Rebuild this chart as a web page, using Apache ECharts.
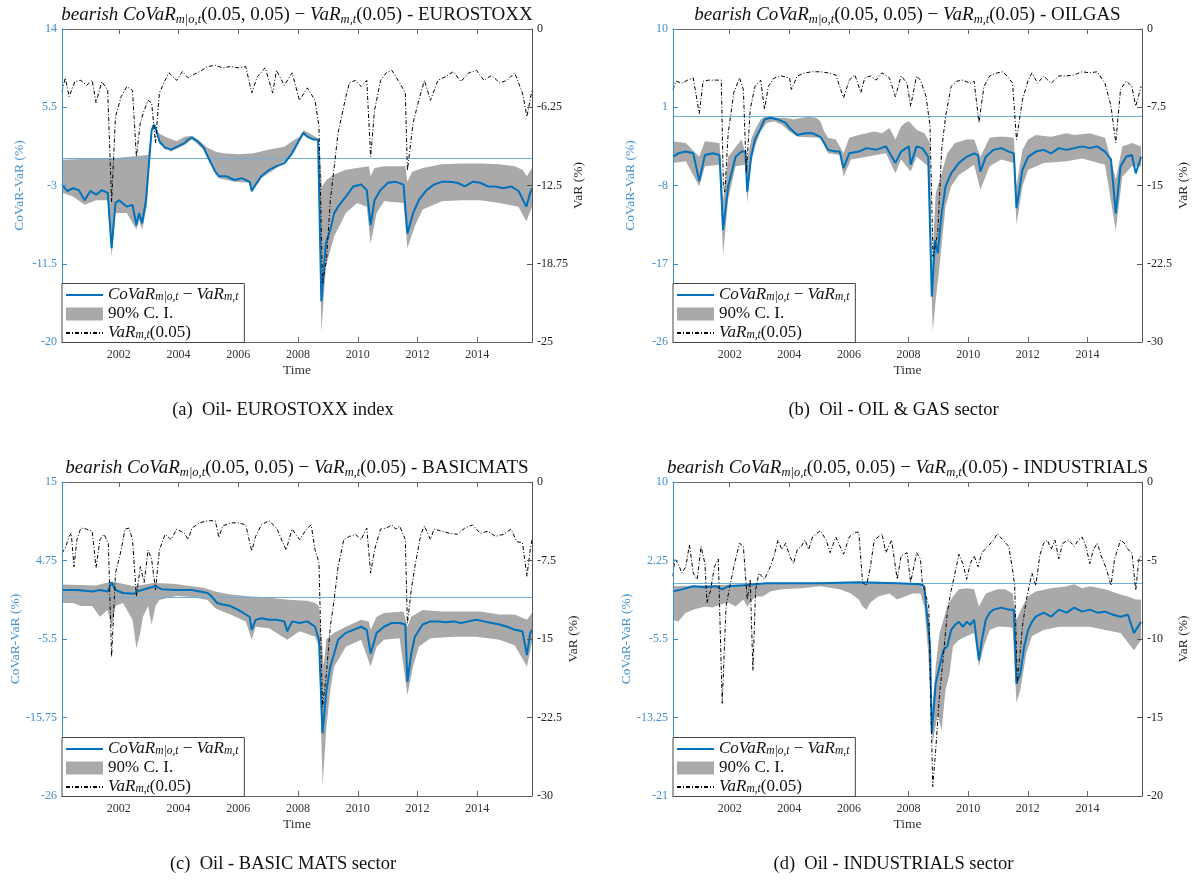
<!DOCTYPE html>
<html>
<head>
<meta charset="utf-8">
<script src="https://cdn.jsdelivr.net/npm/echarts@6/dist/echarts.min.js"></script>
<style>html,body{margin:0;padding:0;background:#fff}#c{width:1194px;height:880px}</style>
</head>
<body>
<div id="c"></div>
<script>
// ---------------- DATA ----------------
const timeRange = [2000.1, 2015.83];
const xTicks = [2002, 2004, 2006, 2008, 2010, 2012, 2014];

const euroLeftTicks = [-20, -11.5, -3, 5.5, 14];
const euroRightTicks = [-25, -18.75, -12.5, -6.25, 0];
const oilLeftTicks = [-26, -17, -8, 1, 10];
const oilRightTicks = [-30, -22.5, -15, -7.5, 0];
const basicLeftTicks = [-26, -15.75, -5.5, 4.75, 15];
const basicRightTicks = [-30, -22.5, -15, -7.5, 0];
const indusLeftTicks = [-21, -13.25, -5.5, 2.25, 10];
const indusRightTicks = [-20, -15, -10, -5, 0];

const sectorNames = ['EUROSTOXX', 'OILGAS', 'BASICMATS', 'INDUSTRIALS'];
const captions = ['(a)  Oil- EUROSTOXX index', '(b)  Oil - OIL & GAS sector', '(c)  Oil - BASIC MATS sector', '(d)  Oil - INDUSTRIALS sector'];

// Panel (a) EUROSTOXX
const euroVar = [[2000.10,-5.0],[2000.21,-3.9],[2000.34,-5.4],[2000.53,-4.2],[2000.73,-4.1],[2000.92,-4.5],[2001.11,-4.1],[2001.24,-5.9],[2001.43,-4.2],[2001.63,-4.9],[2001.76,-13.8],[2001.89,-7.0],[2002.08,-5.4],[2002.27,-4.6],[2002.46,-4.9],[2002.59,-10.2],[2002.72,-7.5],[2002.85,-6.5],[2002.98,-5.7],[2003.10,-5.9],[2003.23,-9.1],[2003.36,-5.1],[2003.55,-4.1],[2003.68,-3.5],[2003.94,-4.1],[2004.13,-3.4],[2004.32,-3.9],[2004.45,-3.7],[2004.71,-3.4],[2004.97,-3.0],[2005.23,-2.9],[2005.48,-3.1],[2005.74,-3.0],[2006.00,-3.1],[2006.25,-3.0],[2006.45,-5.1],[2006.64,-3.8],[2006.90,-3.1],[2007.15,-5.1],[2007.28,-3.3],[2007.54,-4.5],[2007.80,-3.5],[2008.05,-5.7],[2008.31,-4.7],[2008.57,-5.7],[2008.70,-7.8],[2008.82,-20.3],[2008.95,-18.5],[2009.08,-13.7],[2009.34,-8.3],[2009.60,-5.4],[2009.72,-4.3],[2009.92,-4.1],[2010.11,-4.6],[2010.30,-4.1],[2010.43,-10.2],[2010.56,-6.5],[2010.76,-4.1],[2010.95,-3.5],[2011.14,-3.3],[2011.40,-4.3],[2011.59,-5.1],[2011.66,-11.3],[2011.85,-7.5],[2012.04,-5.7],[2012.23,-4.1],[2012.43,-5.7],[2012.68,-4.1],[2012.94,-3.8],[2013.20,-3.4],[2013.45,-4.2],[2013.71,-3.5],[2013.97,-3.3],[2014.22,-4.1],[2014.48,-3.7],[2014.74,-4.3],[2015.00,-4.1],[2015.25,-3.5],[2015.51,-5.1],[2015.66,-7.0],[2015.83,-4.9]];
const euroCovar = [[2000.10,-2.9],[2000.28,-3.6],[2000.47,-3.3],[2000.66,-3.5],[2000.86,-4.6],[2001.05,-3.6],[2001.24,-4.0],[2001.43,-3.5],[2001.63,-3.8],[2001.76,-9.8],[2001.89,-4.9],[2002.01,-4.6],[2002.27,-5.3],[2002.46,-5.1],[2002.59,-7.3],[2002.68,-6.0],[2002.78,-7.1],[2002.91,-4.6],[2003.10,3.0],[2003.17,3.6],[2003.23,3.3],[2003.36,1.8],[2003.55,1.1],[2003.75,0.9],[2003.94,1.2],[2004.20,1.6],[2004.32,2.0],[2004.45,2.2],[2004.65,1.8],[2004.84,1.1],[2005.03,-0.2],[2005.23,-1.5],[2005.35,-2.0],[2005.61,-2.0],[2005.87,-2.4],[2006.12,-2.2],[2006.38,-2.6],[2006.45,-3.6],[2006.58,-2.9],[2006.77,-2.0],[2007.03,-1.3],[2007.28,-0.9],[2007.54,-0.6],[2007.80,0.5],[2008.05,2.0],[2008.18,2.7],[2008.31,2.3],[2008.50,2.0],[2008.67,2.0],[2008.78,-15.6],[2008.93,-9.3],[2009.08,-7.8],[2009.21,-6.0],[2009.34,-5.3],[2009.60,-4.2],[2009.85,-3.1],[2010.11,-2.9],[2010.30,-3.5],[2010.43,-7.3],[2010.56,-4.6],[2010.76,-3.5],[2011.01,-2.7],[2011.27,-2.6],[2011.53,-2.9],[2011.66,-8.2],[2011.85,-6.0],[2012.04,-4.6],[2012.30,-3.5],[2012.55,-2.9],[2012.81,-2.6],[2013.07,-2.6],[2013.33,-2.7],[2013.58,-3.1],[2013.84,-2.6],[2014.10,-2.7],[2014.35,-3.1],[2014.61,-3.1],[2014.87,-3.3],[2015.13,-3.1],[2015.38,-3.6],[2015.64,-5.3],[2015.77,-3.8],[2015.83,-3.3]];
const euroUpper = [[2000.10,-0.2],[2001.00,-0.1],[2001.89,0.0],[2002.98,0.3],[2003.10,3.2],[2003.20,3.8],[2003.33,2.7],[2003.55,2.3],[2003.94,1.8],[2004.20,2.3],[2004.45,2.4],[2004.71,1.8],[2004.97,1.1],[2005.23,0.7],[2005.48,0.5],[2006.00,0.4],[2006.51,0.5],[2007.03,0.9],[2007.54,1.2],[2007.80,1.8],[2008.05,2.3],[2008.18,3.0],[2008.37,2.7],[2008.63,2.2],[2008.72,0.9],[2008.80,-3.1],[2008.95,-2.4],[2009.21,-1.8],[2009.60,-1.3],[2009.98,-1.1],[2010.37,-0.9],[2010.43,-2.0],[2010.56,-1.1],[2010.88,-0.9],[2011.59,-0.9],[2011.66,-2.6],[2011.82,-1.5],[2012.17,-1.1],[2012.81,-0.7],[2013.45,-0.6],[2014.10,-0.6],[2014.74,-0.7],[2015.25,-0.9],[2015.51,-1.3],[2015.66,-2.0],[2015.83,-1.1]];
const euroLower = [[2000.10,-3.8],[2000.47,-4.2],[2000.86,-5.1],[2001.24,-4.6],[2001.63,-4.6],[2001.76,-10.7],[2001.89,-6.0],[2002.27,-6.0],[2002.59,-7.8],[2002.68,-6.7],[2002.78,-7.8],[2002.94,-5.3],[2003.10,2.9],[2003.23,3.1],[2003.36,1.5],[2003.75,0.7],[2004.20,1.4],[2004.45,2.0],[2004.84,0.9],[2005.03,-0.4],[2005.35,-2.2],[2005.87,-2.6],[2006.38,-2.7],[2006.45,-3.8],[2006.77,-2.2],[2007.28,-1.1],[2007.80,0.3],[2008.18,2.5],[2008.67,1.8],[2008.78,-18.9],[2008.93,-11.8],[2009.21,-8.5],[2009.60,-6.0],[2009.98,-4.9],[2010.30,-5.3],[2010.43,-9.3],[2010.63,-6.0],[2010.88,-4.7],[2011.53,-4.9],[2011.66,-9.8],[2011.91,-7.4],[2012.17,-5.6],[2012.81,-4.7],[2013.45,-4.6],[2014.10,-4.6],[2014.74,-4.9],[2015.38,-5.3],[2015.64,-6.9],[2015.83,-5.3]];

// Panel (b) OILGAS
const oilVar = [[2000.10,-5.8],[2000.20,-5.0],[2000.40,-5.2],[2000.59,-4.9],[2000.78,-4.7],[2000.98,-8.1],[2001.11,-5.0],[2001.30,-4.9],[2001.56,-4.9],[2001.72,-4.9],[2001.79,-15.1],[2001.84,-15.6],[2001.95,-10.0],[2002.14,-6.1],[2002.33,-4.7],[2002.46,-5.8],[2002.56,-13.8],[2002.69,-7.7],[2002.85,-5.5],[2003.04,-4.9],[2003.17,-7.7],[2003.30,-5.5],[2003.49,-4.7],[2003.75,-4.5],[2004.01,-4.7],[2004.07,-5.8],[2004.27,-4.5],[2004.53,-4.2],[2004.78,-4.1],[2005.04,-4.1],[2005.30,-4.2],[2005.56,-4.4],[2005.82,-6.6],[2006.01,-4.9],[2006.20,-4.4],[2006.40,-6.1],[2006.53,-4.7],[2006.72,-4.5],[2006.91,-4.9],[2007.11,-4.2],[2007.36,-4.7],[2007.56,-6.5],[2007.75,-4.5],[2007.95,-5.2],[2008.07,-7.4],[2008.27,-4.5],[2008.40,-4.9],[2008.59,-6.5],[2008.72,-9.3],[2008.82,-21.8],[2008.98,-19.6],[2009.11,-11.6],[2009.24,-8.4],[2009.43,-5.5],[2009.62,-5.0],[2009.82,-4.9],[2010.07,-5.2],[2010.20,-5.0],[2010.36,-9.0],[2010.53,-5.5],[2010.72,-4.5],[2010.98,-4.2],[2011.17,-4.1],[2011.36,-4.7],[2011.49,-5.2],[2011.62,-10.6],[2011.82,-6.8],[2012.01,-4.9],[2012.14,-4.2],[2012.33,-5.2],[2012.53,-4.5],[2012.78,-5.2],[2013.04,-4.5],[2013.30,-4.5],[2013.56,-4.4],[2013.82,-4.1],[2014.08,-4.2],[2014.33,-4.1],[2014.59,-5.2],[2014.79,-7.4],[2014.95,-10.9],[2015.11,-5.8],[2015.30,-5.0],[2015.49,-5.5],[2015.62,-7.4],[2015.80,-5.5]];
const oilCovar = [[2000.10,-4.7],[2000.27,-4.3],[2000.53,-4.1],[2000.78,-4.3],[2000.98,-7.5],[2001.17,-4.5],[2001.43,-4.3],[2001.66,-4.5],[2001.78,-13.1],[2001.95,-8.1],[2002.20,-4.7],[2002.40,-4.1],[2002.53,-4.1],[2002.59,-8.7],[2002.72,-4.7],[2002.85,-2.7],[2003.04,-1.4],[2003.17,-0.4],[2003.36,-0.2],[2003.62,-0.4],[2003.88,-0.8],[2004.01,-1.4],[2004.27,-2.2],[2004.53,-2.0],[2004.78,-2.0],[2005.04,-2.4],[2005.17,-3.1],[2005.30,-3.9],[2005.56,-4.1],[2005.69,-4.1],[2005.82,-6.0],[2006.01,-4.3],[2006.33,-4.1],[2006.59,-3.7],[2006.91,-3.9],[2007.24,-3.5],[2007.56,-5.4],[2007.75,-4.1],[2008.01,-3.5],[2008.07,-5.6],[2008.27,-3.5],[2008.46,-3.7],[2008.66,-4.7],[2008.78,-20.8],[2008.89,-14.3],[2008.98,-15.8],[2009.11,-11.2],[2009.24,-8.1],[2009.43,-6.6],[2009.69,-5.4],[2009.95,-4.7],[2010.20,-4.3],[2010.33,-4.5],[2010.41,-6.4],[2010.59,-4.7],[2010.85,-3.9],[2011.11,-3.7],[2011.36,-4.1],[2011.53,-4.3],[2011.62,-10.6],[2011.82,-6.2],[2012.01,-4.7],[2012.27,-4.1],[2012.53,-3.9],[2012.78,-4.3],[2013.04,-3.7],[2013.30,-3.9],[2013.56,-3.7],[2013.82,-3.5],[2014.08,-3.7],[2014.33,-3.5],[2014.59,-4.1],[2014.79,-5.0],[2014.95,-11.2],[2015.11,-5.8],[2015.30,-4.7],[2015.49,-4.5],[2015.62,-6.6],[2015.80,-4.7]];
const oilUpper = [[2000.10,-2.9],[2000.53,-3.1],[2000.98,-4.7],[2001.17,-2.9],[2001.66,-3.1],[2001.78,-9.6],[2001.95,-4.7],[2002.40,-2.7],[2002.59,-5.0],[2002.72,-2.7],[2002.85,-1.6],[2003.04,-0.4],[2003.17,-0.1],[2003.36,-0.1],[2003.62,-0.2],[2003.88,-0.2],[2004.14,-0.4],[2004.40,-0.2],[2004.65,-0.1],[2004.91,-0.2],[2005.04,-0.6],[2005.17,-1.8],[2005.30,-2.5],[2005.56,-2.7],[2005.82,-4.3],[2006.01,-2.5],[2006.33,-2.2],[2006.59,-2.0],[2006.85,-1.8],[2007.11,-2.0],[2007.36,-1.4],[2007.56,-2.7],[2007.75,-1.2],[2007.88,-0.8],[2008.01,-0.6],[2008.27,-1.6],[2008.53,-2.0],[2008.72,-3.1],[2008.78,-17.7],[2008.91,-8.9],[2009.11,-6.6],[2009.30,-4.3],[2009.56,-3.1],[2009.95,-2.7],[2010.20,-2.7],[2010.41,-4.7],[2010.72,-2.5],[2010.98,-2.4],[2011.24,-2.4],[2011.53,-2.5],[2011.62,-8.1],[2011.82,-3.9],[2012.01,-2.7],[2012.27,-2.2],[2012.78,-2.4],[2013.30,-2.0],[2013.56,-2.2],[2014.08,-2.0],[2014.59,-2.5],[2014.95,-7.3],[2015.17,-3.5],[2015.49,-3.1],[2015.80,-3.5]];
const oilLower = [[2000.10,-5.4],[2000.53,-5.2],[2000.98,-8.1],[2001.17,-5.8],[2001.66,-5.6],[2001.78,-16.0],[2001.95,-9.6],[2002.20,-5.8],[2002.53,-5.6],[2002.59,-10.0],[2002.72,-5.4],[2002.85,-3.5],[2003.04,-1.8],[2003.24,-0.8],[2003.49,-0.6],[2003.75,-1.0],[2004.01,-1.8],[2004.27,-2.4],[2005.04,-2.5],[2005.30,-4.3],[2005.69,-4.5],[2005.82,-7.0],[2006.07,-5.0],[2006.59,-4.7],[2007.24,-4.3],[2007.56,-6.6],[2007.75,-5.0],[2008.07,-6.4],[2008.27,-4.7],[2008.66,-5.8],[2008.81,-24.8],[2008.91,-21.2],[2009.04,-17.3],[2009.24,-10.4],[2009.43,-8.1],[2009.69,-6.8],[2010.20,-5.6],[2010.41,-8.5],[2010.72,-5.8],[2011.11,-5.0],[2011.53,-5.4],[2011.62,-12.5],[2011.82,-8.1],[2012.01,-6.2],[2012.53,-5.4],[2013.30,-5.2],[2013.82,-4.9],[2014.59,-5.6],[2014.95,-13.2],[2015.17,-7.0],[2015.49,-5.8],[2015.80,-5.8]];

// Panel (c) BASICMATS
const basicVar = [[2000.10,-6.8],[2000.21,-6.3],[2000.34,-5.2],[2000.41,-4.9],[2000.50,-8.1],[2000.60,-5.5],[2000.73,-4.4],[2000.92,-4.5],[2001.11,-4.7],[2001.24,-8.2],[2001.37,-5.5],[2001.50,-5.0],[2001.65,-5.8],[2001.76,-16.7],[2001.89,-8.7],[2002.08,-6.5],[2002.21,-4.5],[2002.34,-4.4],[2002.46,-5.5],[2002.59,-10.9],[2002.72,-8.1],[2002.85,-9.6],[2002.98,-6.5],[2003.10,-7.4],[2003.23,-10.3],[2003.36,-6.5],[2003.55,-5.0],[2003.75,-5.5],[2003.94,-4.5],[2004.20,-4.9],[2004.32,-5.5],[2004.45,-4.4],[2004.71,-3.9],[2004.97,-3.7],[2005.23,-3.7],[2005.35,-5.3],[2005.48,-4.2],[2005.74,-3.9],[2006.00,-3.9],[2006.25,-4.1],[2006.45,-6.6],[2006.58,-5.2],[2006.77,-4.1],[2007.03,-3.7],[2007.28,-4.4],[2007.60,-6.5],[2007.80,-4.5],[2008.05,-5.5],[2008.31,-4.4],[2008.44,-4.1],[2008.57,-6.5],[2008.70,-7.7],[2008.82,-21.5],[2008.95,-18.3],[2009.08,-13.8],[2009.21,-11.2],[2009.34,-8.1],[2009.53,-5.5],[2009.72,-5.2],[2009.92,-5.0],[2010.11,-5.5],[2010.30,-4.4],[2010.43,-8.7],[2010.56,-6.5],[2010.76,-4.5],[2010.95,-4.4],[2011.14,-4.1],[2011.27,-4.5],[2011.40,-4.2],[2011.59,-5.5],[2011.66,-13.5],[2011.79,-10.3],[2011.91,-8.1],[2012.11,-5.0],[2012.23,-4.2],[2012.43,-5.5],[2012.55,-4.5],[2012.81,-4.7],[2013.07,-4.9],[2013.33,-5.0],[2013.58,-4.4],[2013.84,-4.1],[2014.10,-4.9],[2014.35,-4.7],[2014.61,-5.2],[2014.87,-5.0],[2015.13,-4.5],[2015.32,-5.7],[2015.51,-5.8],[2015.66,-9.0],[2015.77,-6.5],[2015.83,-5.5]];
const basicCovar = [[2000.10,0.9],[2000.60,0.9],[2001.11,0.7],[2001.37,0.9],[2001.63,0.7],[2001.76,1.9],[2001.89,0.9],[2002.14,0.5],[2002.53,0.4],[2002.59,0.7],[2002.78,0.9],[2003.04,1.2],[2003.23,1.4],[2003.43,1.0],[2003.94,0.9],[2004.45,0.9],[2004.71,0.7],[2004.97,0.5],[2005.10,0.1],[2005.29,-0.8],[2005.48,-1.0],[2005.74,-1.2],[2006.00,-1.7],[2006.25,-2.3],[2006.38,-2.6],[2006.45,-4.3],[2006.58,-3.0],[2006.77,-2.8],[2007.03,-3.0],[2007.28,-3.0],[2007.54,-3.2],[2007.64,-4.5],[2007.80,-3.2],[2008.05,-3.4],[2008.31,-3.2],[2008.57,-3.9],[2008.70,-5.6],[2008.82,-17.8],[2008.95,-12.2],[2009.08,-9.1],[2009.21,-7.4],[2009.34,-5.6],[2009.60,-4.7],[2009.85,-4.3],[2010.11,-3.9],[2010.30,-4.3],[2010.43,-7.4],[2010.63,-4.7],[2010.88,-3.9],[2011.14,-3.4],[2011.40,-3.4],[2011.59,-3.6],[2011.66,-11.1],[2011.79,-7.4],[2011.91,-5.2],[2012.17,-3.6],[2012.43,-3.2],[2012.68,-3.2],[2012.94,-3.3],[2013.20,-3.2],[2013.45,-3.4],[2013.71,-3.2],[2013.97,-3.0],[2014.22,-3.2],[2014.48,-3.4],[2014.74,-3.6],[2015.00,-3.9],[2015.25,-4.3],[2015.51,-4.5],[2015.66,-7.6],[2015.77,-4.7],[2015.83,-4.3]];
const basicUpper = [[2000.10,1.6],[2001.24,1.5],[2001.76,2.0],[2002.53,1.4],[2003.17,1.8],[2003.81,1.7],[2004.45,1.4],[2004.84,1.2],[2005.23,0.7],[2005.74,0.3],[2006.25,0.1],[2006.77,0.0],[2007.28,-0.2],[2007.80,-0.4],[2008.31,-0.5],[2008.57,-0.8],[2008.70,-1.2],[2008.80,-6.0],[2008.86,-9.0],[2008.95,-5.5],[2009.21,-4.7],[2009.60,-3.9],[2010.11,-3.0],[2010.37,-3.2],[2010.43,-4.3],[2010.63,-2.6],[2010.88,-2.1],[2011.53,-1.9],[2011.66,-3.9],[2011.79,-2.6],[2012.17,-1.7],[2012.81,-1.9],[2013.45,-1.9],[2014.10,-1.9],[2014.74,-2.3],[2015.25,-2.3],[2015.66,-3.0],[2015.83,-2.1]];
const basicLower = [[2000.10,-0.8],[2000.47,-0.8],[2000.73,-1.2],[2001.11,-1.2],[2001.37,-2.6],[2001.63,-1.7],[2001.76,-3.9],[2001.89,-1.2],[2002.14,-0.8],[2002.46,-3.0],[2002.59,-6.7],[2002.72,-4.7],[2002.81,-2.6],[2002.98,-1.2],[2003.10,-3.6],[2003.23,-1.2],[2003.36,-0.4],[2003.55,-0.2],[2003.94,0.1],[2004.45,0.0],[2004.97,-0.4],[2005.23,-1.5],[2005.48,-1.9],[2005.74,-2.3],[2006.25,-3.2],[2006.45,-5.6],[2006.58,-3.9],[2007.03,-4.1],[2007.64,-5.6],[2008.05,-4.5],[2008.57,-5.2],[2008.70,-6.5],[2008.82,-24.6],[2008.95,-17.0],[2009.08,-12.2],[2009.21,-9.1],[2009.41,-7.8],[2009.60,-6.5],[2010.11,-5.6],[2010.43,-9.1],[2010.63,-6.5],[2010.88,-5.6],[2011.40,-5.4],[2011.66,-12.8],[2011.85,-9.1],[2012.04,-6.5],[2012.43,-5.4],[2013.20,-5.2],[2013.97,-5.2],[2014.74,-5.6],[2015.25,-6.3],[2015.66,-9.1],[2015.83,-6.0]];

// Panel (d) INDUSTRIALS
const indusVar = [[2000.10,-6.0],[2000.16,-4.9],[2000.27,-5.2],[2000.40,-5.8],[2000.53,-5.4],[2000.65,-4.0],[2000.78,-5.8],[2000.91,-6.2],[2001.04,-4.1],[2001.17,-5.2],[2001.24,-7.7],[2001.36,-6.9],[2001.49,-5.4],[2001.62,-4.9],[2001.75,-14.1],[2001.88,-7.9],[2002.01,-6.6],[2002.14,-5.4],[2002.33,-3.9],[2002.46,-4.1],[2002.59,-7.5],[2002.69,-6.2],[2002.78,-12.0],[2002.87,-6.9],[2002.98,-5.8],[2003.17,-6.2],[2003.36,-5.4],[2003.49,-4.7],[2003.62,-3.7],[2003.75,-4.3],[2003.88,-3.9],[2004.01,-4.7],[2004.14,-5.2],[2004.27,-4.3],[2004.40,-4.1],[2004.53,-3.7],[2004.65,-4.3],[2004.78,-3.5],[2005.04,-3.1],[2005.24,-3.7],[2005.37,-4.5],[2005.56,-3.5],[2005.82,-4.6],[2006.01,-3.5],[2006.20,-3.2],[2006.33,-3.2],[2006.46,-6.4],[2006.59,-6.6],[2006.72,-5.4],[2006.85,-3.7],[2007.11,-3.3],[2007.24,-4.5],[2007.43,-3.7],[2007.62,-6.2],[2007.75,-4.7],[2007.95,-4.5],[2008.07,-6.4],[2008.27,-4.5],[2008.40,-4.9],[2008.46,-6.4],[2008.59,-7.3],[2008.68,-7.9],[2008.81,-19.4],[2008.91,-17.1],[2009.04,-13.5],[2009.17,-11.1],[2009.30,-8.3],[2009.43,-6.9],[2009.56,-5.8],[2009.69,-4.6],[2009.82,-5.2],[2009.95,-6.2],[2010.07,-5.2],[2010.20,-4.7],[2010.33,-5.4],[2010.46,-4.5],[2010.66,-4.1],[2010.85,-3.7],[2010.98,-3.3],[2011.17,-3.7],[2011.36,-4.1],[2011.49,-5.6],[2011.56,-6.6],[2011.65,-12.8],[2011.82,-9.2],[2011.95,-7.5],[2012.14,-5.8],[2012.27,-6.6],[2012.40,-4.7],[2012.53,-3.9],[2012.66,-3.7],[2012.78,-4.3],[2012.91,-3.7],[2013.04,-4.9],[2013.17,-3.9],[2013.37,-3.7],[2013.56,-4.1],[2013.69,-3.7],[2013.82,-3.5],[2013.95,-4.1],[2014.08,-5.2],[2014.20,-4.3],[2014.33,-3.9],[2014.46,-4.7],[2014.65,-5.6],[2014.79,-6.6],[2014.91,-4.9],[2015.11,-3.7],[2015.24,-3.9],[2015.36,-4.3],[2015.49,-4.5],[2015.62,-6.9],[2015.73,-4.9],[2015.80,-4.7]];
const indusCovar = [[2000.10,-0.8],[2000.40,-0.6],[2000.78,-0.3],[2001.17,-0.4],[2001.56,-0.3],[2001.75,-0.6],[2001.95,-0.3],[2002.46,-0.2],[2002.85,-0.1],[2003.24,0.0],[2005.04,0.0],[2006.33,0.1],[2007.62,0.0],[2008.40,-0.1],[2008.53,-0.3],[2008.59,-2.3],[2008.66,-4.3],[2008.72,-6.2],[2008.78,-14.8],[2008.91,-9.9],[2009.04,-8.2],[2009.17,-6.6],[2009.30,-6.2],[2009.43,-4.6],[2009.56,-4.1],[2009.69,-3.8],[2009.82,-4.3],[2009.95,-3.8],[2010.07,-4.1],[2010.20,-3.6],[2010.36,-7.6],[2010.46,-5.6],[2010.59,-3.6],[2010.72,-2.9],[2010.85,-2.6],[2011.11,-2.4],[2011.36,-2.6],[2011.53,-2.6],[2011.62,-9.9],[2011.75,-8.9],[2011.88,-6.2],[2012.01,-4.6],[2012.14,-3.8],[2012.27,-3.3],[2012.53,-2.9],[2012.78,-3.3],[2013.04,-2.6],[2013.30,-2.9],[2013.56,-2.4],[2013.82,-2.8],[2014.08,-2.6],[2014.33,-2.9],[2014.59,-2.8],[2014.85,-3.1],[2015.11,-3.3],[2015.36,-3.1],[2015.56,-4.9],[2015.69,-4.3],[2015.80,-3.8]];
const indusUpper = [[2000.10,-0.3],[2001.17,-0.2],[2002.85,-0.1],[2003.24,0.0],[2008.40,0.0],[2008.59,-1.3],[2008.72,-4.3],[2008.78,-13.2],[2008.91,-8.2],[2009.04,-4.9],[2009.17,-3.6],[2009.30,-2.3],[2009.49,-1.3],[2009.69,-0.6],[2009.95,-0.5],[2010.20,-0.6],[2010.36,-2.3],[2010.59,-1.0],[2010.98,-0.6],[2011.24,-0.6],[2011.49,-1.0],[2011.62,-3.6],[2011.82,-2.3],[2012.01,-1.3],[2012.27,-0.8],[2012.78,-0.5],[2013.30,-0.3],[2013.56,-0.1],[2013.82,-0.5],[2014.08,-0.3],[2014.59,-0.6],[2015.11,-1.1],[2015.36,-1.3],[2015.62,-1.6],[2015.80,-1.6]];
const indusLower = [[2000.10,-3.6],[2000.27,-3.8],[2000.53,-2.9],[2000.78,-2.6],[2001.17,-2.3],[2001.43,-2.4],[2001.69,-2.1],[2001.95,-1.9],[2002.20,-2.3],[2002.46,-1.6],[2002.59,-2.3],[2002.85,-1.3],[2003.11,-1.3],[2003.36,-0.8],[2003.75,-0.6],[2004.40,-0.5],[2005.04,-0.3],[2005.69,-0.6],[2006.07,-1.0],[2006.33,-1.6],[2006.46,-2.3],[2006.59,-2.6],[2006.72,-1.9],[2006.98,-1.3],[2007.36,-1.0],[2007.62,-1.6],[2007.88,-1.3],[2008.14,-1.0],[2008.40,-1.0],[2008.53,-2.3],[2008.66,-6.9],[2008.81,-15.8],[2008.91,-14.0],[2008.98,-13.0],[2009.11,-14.5],[2009.24,-10.5],[2009.37,-9.0],[2009.49,-6.2],[2009.69,-5.6],[2009.95,-5.2],[2010.20,-4.9],[2010.36,-8.2],[2010.53,-6.2],[2010.72,-4.6],[2010.98,-4.3],[2011.24,-4.3],[2011.49,-4.4],[2011.62,-11.8],[2011.75,-10.5],[2011.95,-6.9],[2012.14,-5.2],[2012.53,-4.6],[2013.04,-4.3],[2013.56,-4.3],[2014.08,-4.3],[2014.59,-4.6],[2015.11,-4.9],[2015.56,-6.6],[2015.80,-5.6]];

// ---------------- LAYOUT / STYLE ----------------
const SERIF = "'Liberation Serif','DejaVu Serif',serif";
const BLUE = '#0072BD';
const AXBLUE = '#3f8fcf';
const GRAY = '#a9a9a9';
const ZERO = '#6fb0da';
const CANVAS_H = 880;

const panels = [
  {name: sectorNames[0], cap: captions[0], v: euroVar, c: euroCovar, u: euroUpper, l: euroLower, lt: euroLeftTicks, rt: euroRightTicks, box: [62, 29, 470, 313]},
  {name: sectorNames[1], cap: captions[1], v: oilVar, c: oilCovar, u: oilUpper, l: oilLower, lt: oilLeftTicks, rt: oilRightTicks, box: [673, 29, 469, 313]},
  {name: sectorNames[2], cap: captions[2], v: basicVar, c: basicCovar, u: basicUpper, l: basicLower, lt: basicLeftTicks, rt: basicRightTicks, box: [62, 482, 470, 314]},
  {name: sectorNames[3], cap: captions[3], v: indusVar, c: indusCovar, u: indusUpper, l: indusLower, lt: indusLeftTicks, rt: indusRightTicks, box: [673, 482, 469, 314]}
];

const titleRich = {
  i: {fontFamily: SERIF, fontStyle: 'italic', fontSize: 19, lineHeight: 22, verticalAlign: 'middle', fill: '#111'},
  s: {fontFamily: SERIF, fontStyle: 'italic', fontSize: 12.5, lineHeight: 12, verticalAlign: 'bottom', fill: '#111'},
  n: {fontFamily: SERIF, fontSize: 19, lineHeight: 22, verticalAlign: 'middle', fill: '#111'}
};
const legendRich = {
  i: {fontFamily: SERIF, fontStyle: 'italic', fontSize: 17, lineHeight: 15, verticalAlign: 'middle', color: '#111'},
  s: {fontFamily: SERIF, fontStyle: 'italic', fontSize: 11.5, lineHeight: 8, verticalAlign: 'bottom', color: '#111'},
  n: {fontFamily: SERIF, fontSize: 17, lineHeight: 15, verticalAlign: 'middle', color: '#111'}
};
const legendText = {
  covar: '{i|CoVaR}{s|m|o,t}{n| − }{i|VaR}{s|m,t}',
  ci: '{n|90% C. I.}',
  var: '{i|VaR}{s|m,t}{n|(0.05)}'
};

const option = {
  animation: false,
  backgroundColor: '#ffffff',
  grid: [], xAxis: [], yAxis: [], series: [], legend: [], graphic: []
};

panels.forEach((p, i) => {
  const [L, T, W, H] = p.box;
  option.grid.push({left: L, top: T, width: W, height: H, containLabel: false, outerBoundsMode: 'none'});
  const xCommon = {
    gridIndex: i, type: 'value', min: timeRange[0], max: timeRange[1], z: 6,
    splitLine: {show: false},
    axisLine: {show: true, onZero: false, lineStyle: {color: '#666', width: 1}},
    axisTick: {show: true, inside: true, length: 5, customValues: xTicks, lineStyle: {color: '#666'}}
  };
  option.xAxis.push(Object.assign({}, xCommon, {
    position: 'bottom',
    axisLabel: {show: true, customValues: xTicks, formatter: v => String(v), color: '#333', fontFamily: SERIF, fontSize: 12, margin: 7},
    name: 'Time', nameLocation: 'middle', nameGap: 21,
    nameTextStyle: {color: '#333', fontFamily: SERIF, fontSize: 13.5}
  }));
  option.xAxis.push(Object.assign({}, xCommon, {position: 'top', axisLabel: {show: false}}));
  option.yAxis.push({
    gridIndex: i, type: 'value', position: 'left', min: p.lt[0], max: p.lt[p.lt.length - 1], z: 6,
    splitLine: {show: false},
    axisLine: {show: true, onZero: false, lineStyle: {color: AXBLUE, width: 1}},
    axisTick: {show: true, inside: true, length: 5, customValues: p.lt, lineStyle: {color: AXBLUE}},
    axisLabel: {customValues: p.lt, formatter: v => String(v), color: AXBLUE, fontFamily: SERIF, fontSize: 12, margin: 5},
    name: 'CoVaR-VaR (%)', nameLocation: 'middle', nameGap: 36, nameRotate: 90,
    nameTextStyle: {color: AXBLUE, fontFamily: SERIF, fontSize: 13.5}
  });
  option.yAxis.push({
    gridIndex: i, type: 'value', position: 'right', min: p.rt[0], max: p.rt[p.rt.length - 1], z: 6,
    splitLine: {show: false},
    axisLine: {show: true, onZero: false, lineStyle: {color: '#555', width: 1}},
    axisTick: {show: true, inside: true, length: 5, customValues: p.rt, lineStyle: {color: '#555'}},
    axisLabel: {customValues: p.rt, formatter: v => String(v), color: '#222', fontFamily: SERIF, fontSize: 12, margin: 5},
    name: 'VaR (%)', nameLocation: 'middle', nameGap: 34, nameRotate: 90,
    nameTextStyle: {color: '#222', fontFamily: SERIF, fontSize: 13.5}
  });
  const xi = 2 * i, yl = 2 * i, yr = 2 * i + 1;
  const upper = p.u, lower = p.l;
  option.series.push({
    name: 'ci', type: 'custom', xAxisIndex: xi, yAxisIndex: yl, z: 1, silent: true,
    itemStyle: {color: GRAY},
    data: [upper[0]],
    renderItem: function (params, api) {
      const pts = [];
      for (let k = 0; k < upper.length; k++) pts.push(api.coord(upper[k]));
      for (let k = lower.length - 1; k >= 0; k--) pts.push(api.coord(lower[k]));
      return {type: 'polygon', shape: {points: pts}, style: {fill: GRAY, stroke: null}};
    }
  });
  option.series.push({
    name: 'covar', type: 'line', xAxisIndex: xi, yAxisIndex: yl, z: 3,
    data: p.c, symbol: 'none', showSymbol: false,
    lineStyle: {color: BLUE, width: 2}, itemStyle: {color: BLUE},
    markLine: {
      silent: true, symbol: 'none', z: 2, label: {show: false},
      lineStyle: {color: ZERO, width: 1, type: 'solid'},
      data: [{yAxis: 0}]
    }
  });
  option.series.push({
    name: 'var', type: 'line', xAxisIndex: xi, yAxisIndex: yr, z: 4,
    data: p.v, symbol: 'none', showSymbol: false,
    lineStyle: {color: '#000', width: 1, type: [4, 2, 1, 2]}, itemStyle: {color: '#000'}
  });
  option.legend.push({
    orient: 'vertical', left: L, bottom: CANVAS_H - (T + H) - 0.5, z: 10,
    data: [
      {name: 'covar', itemStyle: {opacity: 0}},
      {name: 'ci', icon: 'rect'},
      {name: 'var', itemStyle: {opacity: 0}}
    ],
    itemWidth: 37, itemHeight: 13, itemGap: 2,
    padding: [3, 6, 1, 3],
    borderColor: '#444', borderWidth: 1, borderRadius: 0, backgroundColor: '#fff',
    selectedMode: false,
    formatter: n => legendText[n],
    textStyle: {fontFamily: SERIF, fontSize: 17, lineHeight: 15, color: '#111', rich: legendRich}
  });
  option.graphic.push({
    type: 'text', x: L + W / 2, y: T - 14, z: 20,
    style: {
      text: '{i|bearish CoVaR}{s|m|o,t}{n|(0.05, 0.05) − }{i|VaR}{s|m,t}{n|(0.05) - ' + p.name + '}',
      rich: titleRich, align: 'center', verticalAlign: 'middle', fontFamily: SERIF, fontSize: 19, fill: '#111'
    }
  });
  option.graphic.push({
    type: 'text', x: L + W / 2 - 14, y: T + H + 68, z: 20,
    style: {text: p.cap, align: 'center', verticalAlign: 'middle', fontFamily: SERIF, fontSize: 18.5, fill: '#111'}
  });
});

const chart = echarts.init(document.getElementById('c'), null, {renderer: 'canvas'});
chart.setOption(option);
</script>
</body>
</html>
